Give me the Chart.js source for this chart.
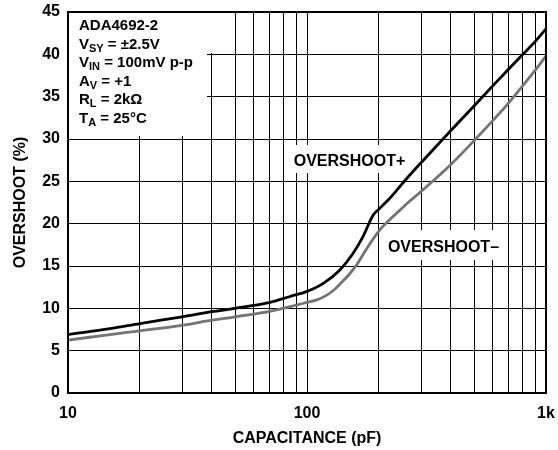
<!DOCTYPE html>
<html lang="en">
<head>
  <meta charset="UTF-8">
  <title>Overshoot vs Capacitance</title>
  <style>
    body { margin: 0; background: #fff; }
  </style>
</head>
<body>
  <canvas id="chart" width="558" height="450"></canvas>

  <script src="https://cdn.jsdelivr.net/npm/chart.js@4/dist/chart.umd.min.js"></script>
  <script>
    // values: load capacitance (pF) -> overshoot (%)
    const capPlus = [10, 15, 20, 30, 40, 50, 70, 85, 100, 117, 137, 156, 171, 189, 198, 222, 257, 300, 400, 500, 600, 700, 800, 900, 1000]
    const overshootPlus = [6.9, 7.6, 8.2, 9.0, 9.6, 10.0, 10.7, 11.4, 12.0, 12.95, 14.5, 16.5, 18.4, 21.0, 21.6, 23.0, 25.1, 27.2, 31.0, 33.9, 36.3, 38.3, 40.0, 41.5, 43.0]
    const capMinus = [10, 15, 20, 30, 40, 50, 70, 85, 100, 110, 120, 130, 140, 150, 162, 172, 183, 202, 222, 245, 265, 300, 400, 500, 600, 700, 800, 900, 1000]
    const overshootMinus = [6.25, 6.9, 7.35, 8.0, 8.6, 9.0, 9.65, 10.2, 10.7, 11.0, 11.5, 12.2, 13.1, 14.0, 15.2, 16.4, 17.6, 19.3, 20.5, 21.6, 22.5, 23.8, 27.0, 29.8, 32.2, 34.3, 36.3, 38.1, 39.8]

    const xTicks = [10, 20, 30, 40, 50, 60, 70, 80, 90, 100, 200, 300, 400, 500, 600, 700, 800, 900, 1000]
    const xTickLabels = { 10: '10', 100: '100', 1000: '1k' }
    const yTicks = [0, 5, 10, 15, 20, 25, 30, 35, 40, 45]

    // conditions box: [main, subscript, rest]
    const conditions = [
      ['ADA4692-2', '', ''],
      ['V', 'SY', ' = \u00b12.5V'],
      ['V', 'IN', ' = 100mV p-p'],
      ['A', 'V', ' = +1'],
      ['R', 'L', ' = 2k\u03a9'],
      ['T', 'A', ' = 25\u00b0C']
    ]

    const FONT = 'Liberation Sans, Arial, sans-serif'
    const toPoints = (xs, ys) => xs.map((x, i) => ({ x: x, y: ys[i] }))

    const notes = {
      id: 'notes',
      beforeDatasetsDraw(chart) {
        const { ctx, chartArea: a } = chart
        const xs = chart.scales.x
        const ys = chart.scales.y
        ctx.save()
        ctx.fillStyle = '#fff'
        // backgrounds behind the text
        ctx.fillRect(a.left, a.top, 139, 124)
        ctx.fillRect(a.left, a.top, 164, 41)
        ctx.fillRect(286, 145, 123, 28)
        ctx.fillRect(382, 230, 124, 30)

        ctx.fillStyle = '#000'
        ctx.textBaseline = 'alphabetic'
        ctx.textAlign = 'left'
        let y = a.top + 18
        for (const [main, sub, rest] of conditions) {
          let x = a.left + 11
          ctx.font = 'bold 15px ' + FONT
          ctx.fillText(main, x, y)
          x += ctx.measureText(main).width
          if (sub) {
            ctx.font = 'bold 11px ' + FONT
            ctx.fillText(sub, x, y + 3)
            x += ctx.measureText(sub).width
          }
          ctx.font = 'bold 15px ' + FONT
          ctx.fillText(rest, x, y)
          y += 18.5
        }

        ctx.font = 'bold 16px ' + FONT
        ctx.fillText('OVERSHOOT+', xs.getPixelForValue(88), ys.getPixelForValue(26.8))
        ctx.fillText('OVERSHOOT\u2013', xs.getPixelForValue(218), ys.getPixelForValue(16.6))
        ctx.restore()
      },
      afterDraw(chart) {
        const { ctx, chartArea: a } = chart
        ctx.save()
        ctx.strokeStyle = '#000'
        ctx.lineWidth = 2
        ctx.strokeRect(a.left, a.top, a.right - a.left, a.bottom - a.top)
        ctx.restore()
      }
    }

    const ctx = document.getElementById('chart').getContext('2d')

    new Chart(ctx, {
      type: 'line',
      data: {
        datasets: [
          {
            label: 'OVERSHOOT+',
            data: toPoints(capPlus, overshootPlus),
            borderColor: '#000',
            borderWidth: 2.8,
            pointRadius: 0,
            cubicInterpolationMode: 'monotone'
          },
          {
            label: 'OVERSHOOT\u2013',
            data: toPoints(capMinus, overshootMinus),
            borderColor: '#747474',
            borderWidth: 2.8,
            pointRadius: 0,
            cubicInterpolationMode: 'monotone'
          }
        ]
      },
      options: {
        responsive: false,
        animation: false,
        layout: { padding: { top: 12, right: 12, left: 0, bottom: 0 } },
        plugins: {
          legend: { display: false },
          tooltip: { enabled: false }
        },
        scales: {
          x: {
            type: 'logarithmic',
            min: 10,
            max: 1000,
            afterBuildTicks: (s) => { s.ticks = xTicks.map(v => ({ value: v })) },
            afterFit: (s) => {
              s.height = 57
              s.paddingLeft = 0
              s.paddingRight = 0
            },
            ticks: {
              autoSkip: false,
              maxRotation: 0,
              padding: 11,
              color: '#000',
              font: { family: FONT, size: 16, weight: 'bold' },
              callback: (v) => xTickLabels[v] || ''
            },
            grid: { color: '#000', lineWidth: 1, drawTicks: false },
            border: { color: '#000', width: 2 },
            title: {
              display: true,
              text: 'CAPACITANCE (pF)',
              color: '#000',
              font: { family: FONT, size: 16, weight: 'bold' },
              padding: { top: 0, bottom: 2 }
            }
          },
          y: {
            min: 0,
            max: 45,
            afterBuildTicks: (s) => { s.ticks = yTicks.map(v => ({ value: v })) },
            afterFit: (s) => {
              s.width = 68
              s.paddingTop = 0
              s.paddingBottom = 0
            },
            ticks: {
              padding: 8,
              color: '#000',
              font: { family: FONT, size: 16, weight: 'bold' }
            },
            grid: { color: '#000', lineWidth: 1, drawTicks: false },
            border: { color: '#000', width: 2 },
            title: {
              display: true,
              text: 'OVERSHOOT (%)',
              color: '#000',
              font: { family: FONT, size: 16, weight: 'bold' },
              padding: { top: 11, bottom: 0 }
            }
          }
        }
      },
      plugins: [notes]
    })
  </script>
</body>
</html>
